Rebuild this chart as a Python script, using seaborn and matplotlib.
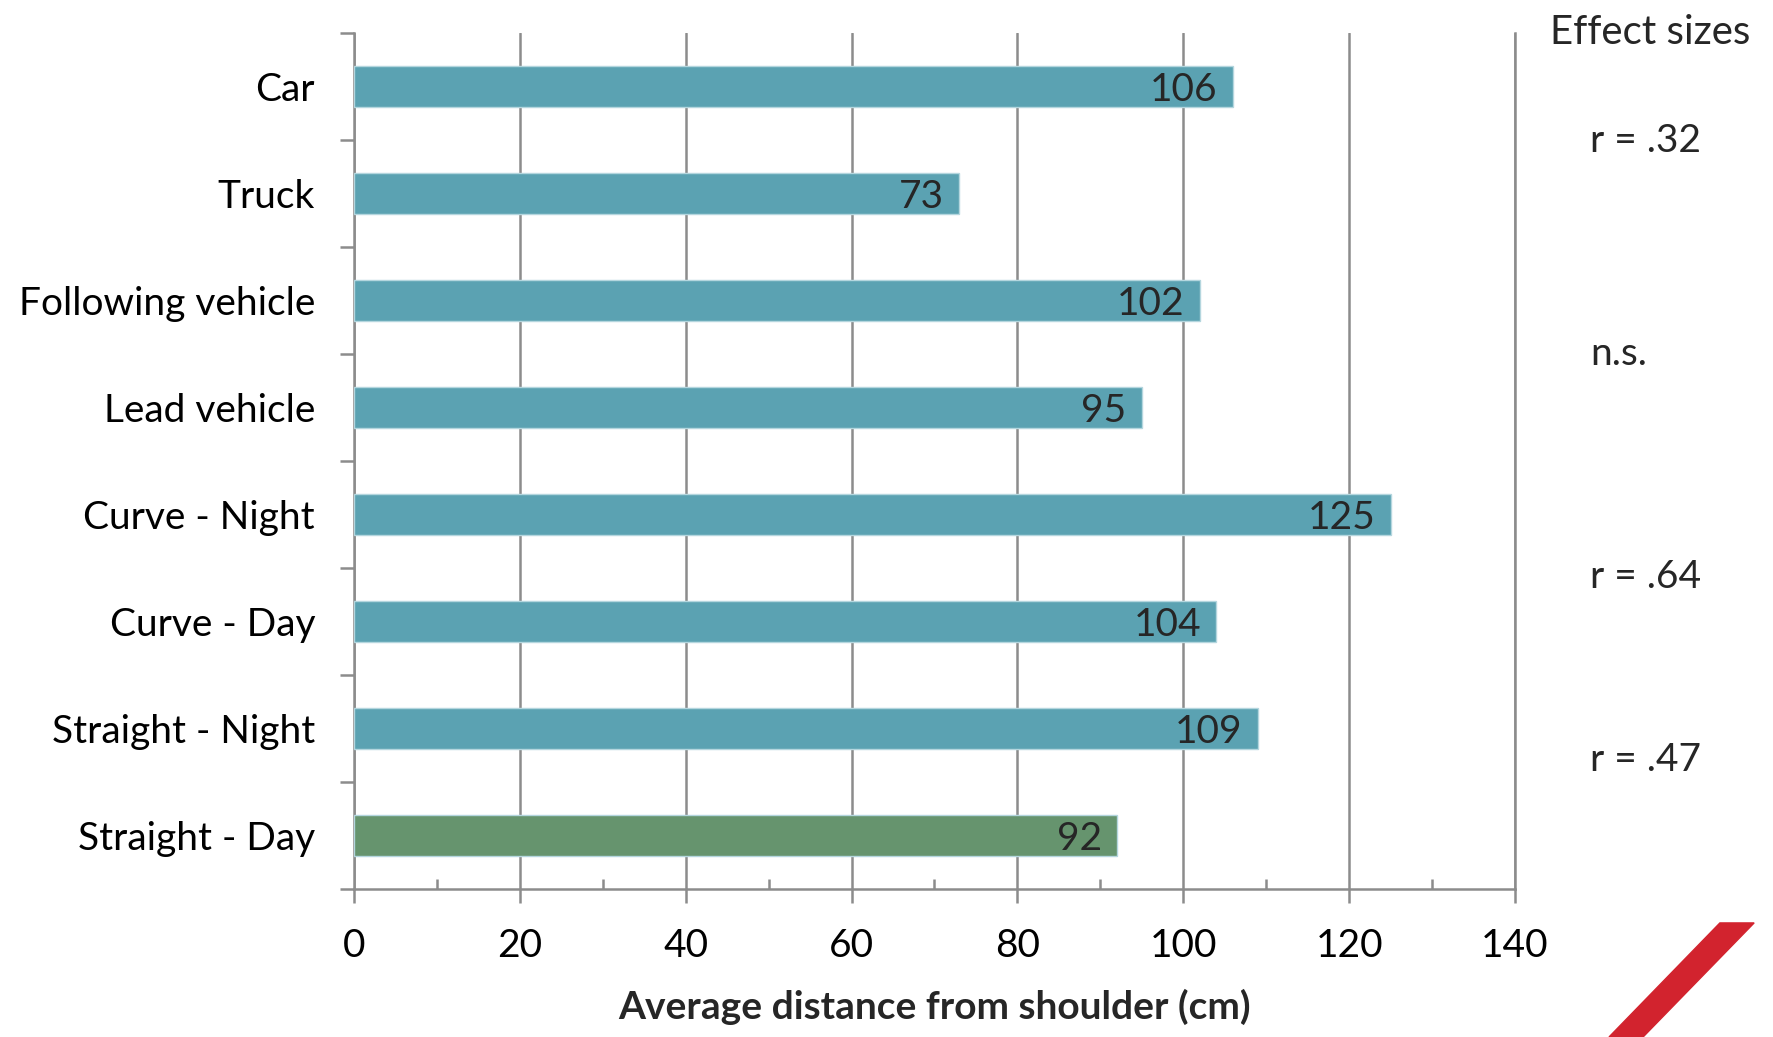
import numpy as np
import pandas as pd
import seaborn as sns
import matplotlib.pyplot as plt
from matplotlib.patches import Polygon
from matplotlib.ticker import MultipleLocator, NullFormatter

sns.set_style("white")
plt.rcParams['font.family'] = ['Lato', 'DejaVu Sans']

# data
categories = ['Car', 'Truck', 'Following vehicle', 'Lead vehicle',
              'Curve - Night', 'Curve - Day', 'Straight - Night', 'Straight - Day']
values = [106, 73, 102, 95, 125, 104, 109, 92]
effect_labels = ['r = .32', 'n.s.', 'r = .64', 'r = .47']
effect_rows = [0.48, 2.47, 4.55, 6.26]   # row position (between category pairs)

teal = '#5ba2b2'
green = '#66946e'
grid_col = '#8c8c8c'
bar_colors = [teal] * 7 + [green]
fs = 28

df = pd.DataFrame({'cat': categories, 'val': values})

fig = plt.figure(figsize=(17.74, 10.37), dpi=100)
ax = fig.add_axes([0.1995, 0.1427, 0.6545, 0.8255])

sns.barplot(data=df, x='val', y='cat', hue='cat', palette=bar_colors,
            saturation=1, legend=False, width=0.39, orient='h', ax=ax,
            edgecolor='#b4d6de', linewidth=1.0, zorder=3)

ax.set_xlim(0, 140)
ax.set_ylim(len(categories) - 0.5, -0.5)

# vertical gridlines, excel style
ax.xaxis.set_major_locator(MultipleLocator(20))
ax.xaxis.set_minor_locator(MultipleLocator(10))
ax.xaxis.set_minor_formatter(NullFormatter())
ax.grid(axis='x', which='major', color=grid_col, linewidth=1.8, zorder=0)
ax.set_axisbelow(True)

ax.spines['top'].set_visible(False)
for s in ['left', 'bottom', 'right']:
    ax.spines[s].set_color(grid_col)
    ax.spines[s].set_linewidth(1.8)

ax.tick_params(axis='x', which='major', bottom=True, direction='out', length=10,
               width=1.8, color=grid_col, pad=18, labelsize=fs, labelcolor='black')
ax.tick_params(axis='x', which='minor', bottom=True, direction='in', length=7,
               width=1.8, color=grid_col)

# category ticks sit between the bars
ax.set_yticks(range(len(categories)))
ax.set_yticklabels(categories)
ax.set_yticks(np.arange(-0.5, len(categories)), minor=True)
ax.tick_params(axis='y', which='major', left=False, length=0, pad=28,
               labelsize=fs, labelcolor='black')
ax.tick_params(axis='y', which='minor', left=True, direction='out', length=10,
               width=1.8, color=grid_col)

ax.set_ylabel('')
ax.set_xlabel('Average distance from shoulder (cm)', fontsize=fs,
              fontweight='bold', labelpad=18)

# value labels inside the bar end
for i, v in enumerate(values):
    ax.annotate(str(v), xy=(v, i), xytext=(-11, 0), textcoords='offset points',
                ha='right', va='center_baseline', fontsize=fs, zorder=5)

# effect sizes column on the right
fig.text(0.8735, 0.969, 'Effect sizes', fontsize=fs + 1, va='center', ha='left')
for lbl, r in zip(effect_labels, effect_rows):
    ax.annotate(lbl, xy=(1.0, r), xycoords=('axes fraction', 'data'),
                xytext=(54, 0), textcoords='offset points',
                ha='left', va='center_baseline', fontsize=fs, annotation_clip=False)

# red slash in the corner
slash = Polygon([(0.9695, 0.110), (0.9888, 0.110), (0.9262, 0.0), (0.9070, 0.0)],
                closed=True, transform=fig.transFigure, color='#d2232e')
fig.patches.append(slash)

fig.savefig('out.png', dpi=100)
